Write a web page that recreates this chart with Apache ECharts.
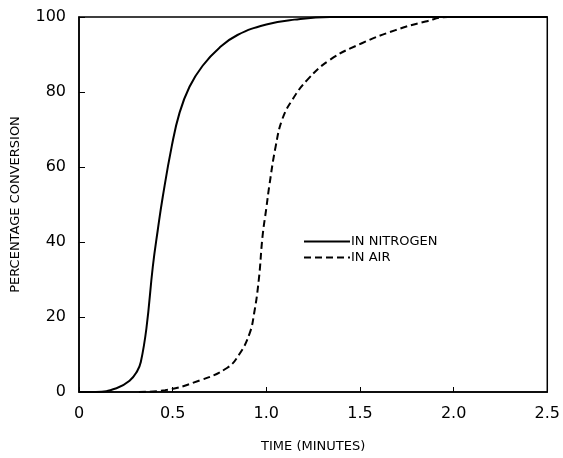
<!DOCTYPE html>
<html lang="en">
<head>
<meta charset="UTF-8">
<title>Percentage conversion</title>
<script src="https://cdn.jsdelivr.net/npm/echarts@6/dist/echarts.min.js"></script>
</head>
<body style="margin:0;background:#fff">
<div id="main" style="width:563px;height:458px;"></div>
<script type="text/javascript">
// values
var nitrogenTime = [0, 0.09, 0.2, 0.27, 0.31, 0.33, 0.36, 0.394, 0.42, 0.447, 0.495, 0.537, 0.59, 0.66, 0.75, 0.846, 1.0, 1.15, 1.34, 1.6, 2.0, 2.5];
var nitrogenPct  = [0, 0, 1, 3, 5.5, 8, 17, 33.4, 43, 52, 65.5, 74.5, 81.4, 87, 91.8, 95.2, 98, 99.3, 100, 100, 100, 100];
var airTime = [0.32, 0.46, 0.64, 0.79, 0.855, 0.91, 0.935, 0.96, 0.98, 1.0, 1.016, 1.05, 1.085, 1.14, 1.22, 1.34, 1.51, 1.69, 1.85, 1.97, 2.2, 2.5];
var airPct  = [0, 0.5, 3, 6.4, 10, 15.5, 21, 30, 41.6, 49, 55, 65.5, 72.7, 78, 83.3, 88.6, 93, 96.5, 98.8, 100, 100, 100];

function pairs(xs, ys) {
    return xs.map(function (x, i) { return [x, ys[i]]; });
}

var myChart = echarts.init(document.getElementById("main"));
var txt = {color: '#000', fontFamily: 'DejaVu Sans'};

myChart.setOption({
    animation: false,
    grid: {left: 79, right: 14, top: 17, bottom: 64, show: true, borderColor: '#000', borderWidth: 1.5},
    legend: {
        left: 298, top: 230, orient: 'vertical',
        itemWidth: 46, itemHeight: 10, itemGap: 3,
        itemStyle: {opacity: 0},
        textStyle: {color: '#000', fontFamily: 'DejaVu Sans', fontSize: 13, padding: [0, 0, 0, -4]},
        data: ['IN NITROGEN', 'IN AIR']
    },
    xAxis: {
        type: 'value', min: 0, max: 2.5, interval: 0.5,
        name: 'TIME (MINUTES)', nameLocation: 'middle', nameGap: 48,
        nameTextStyle: Object.assign({fontSize: 13}, txt),
        axisLine: {lineStyle: {color: '#000', width: 1.5}},
        axisTick: {inside: true, length: 5, lineStyle: {color: '#000'}},
        axisLabel: Object.assign({fontSize: 16, margin: 14, formatter: function (v) {
            return v === 0 ? '0' : v.toFixed(1);
        }}, txt),
        splitLine: {show: false}
    },
    yAxis: {
        type: 'value', min: 0, max: 100, interval: 20,
        name: 'PERCENTAGE CONVERSION', nameLocation: 'middle', nameGap: 57,
        nameTextStyle: Object.assign({fontSize: 13}, txt),
        axisLine: {lineStyle: {color: '#000', width: 1.5}},
        axisTick: {inside: true, length: 6, lineStyle: {color: '#000'}},
        axisLabel: Object.assign({fontSize: 16, margin: 13}, txt),
        splitLine: {show: false}
    },
    series: [
        {
            name: 'IN NITROGEN', type: 'line', smooth: 0.45, symbol: 'none',
            lineStyle: {color: '#000', width: 2},
            itemStyle: {color: '#000'},
            data: pairs(nitrogenTime, nitrogenPct)
        },
        {
            name: 'IN AIR', type: 'line', smooth: 0.45, symbol: 'none',
            lineStyle: {color: '#000', width: 2, type: [7, 4]},
            itemStyle: {color: '#000'},
            data: pairs(airTime, airPct)
        }
    ]
});
</script>
</body>
</html>
